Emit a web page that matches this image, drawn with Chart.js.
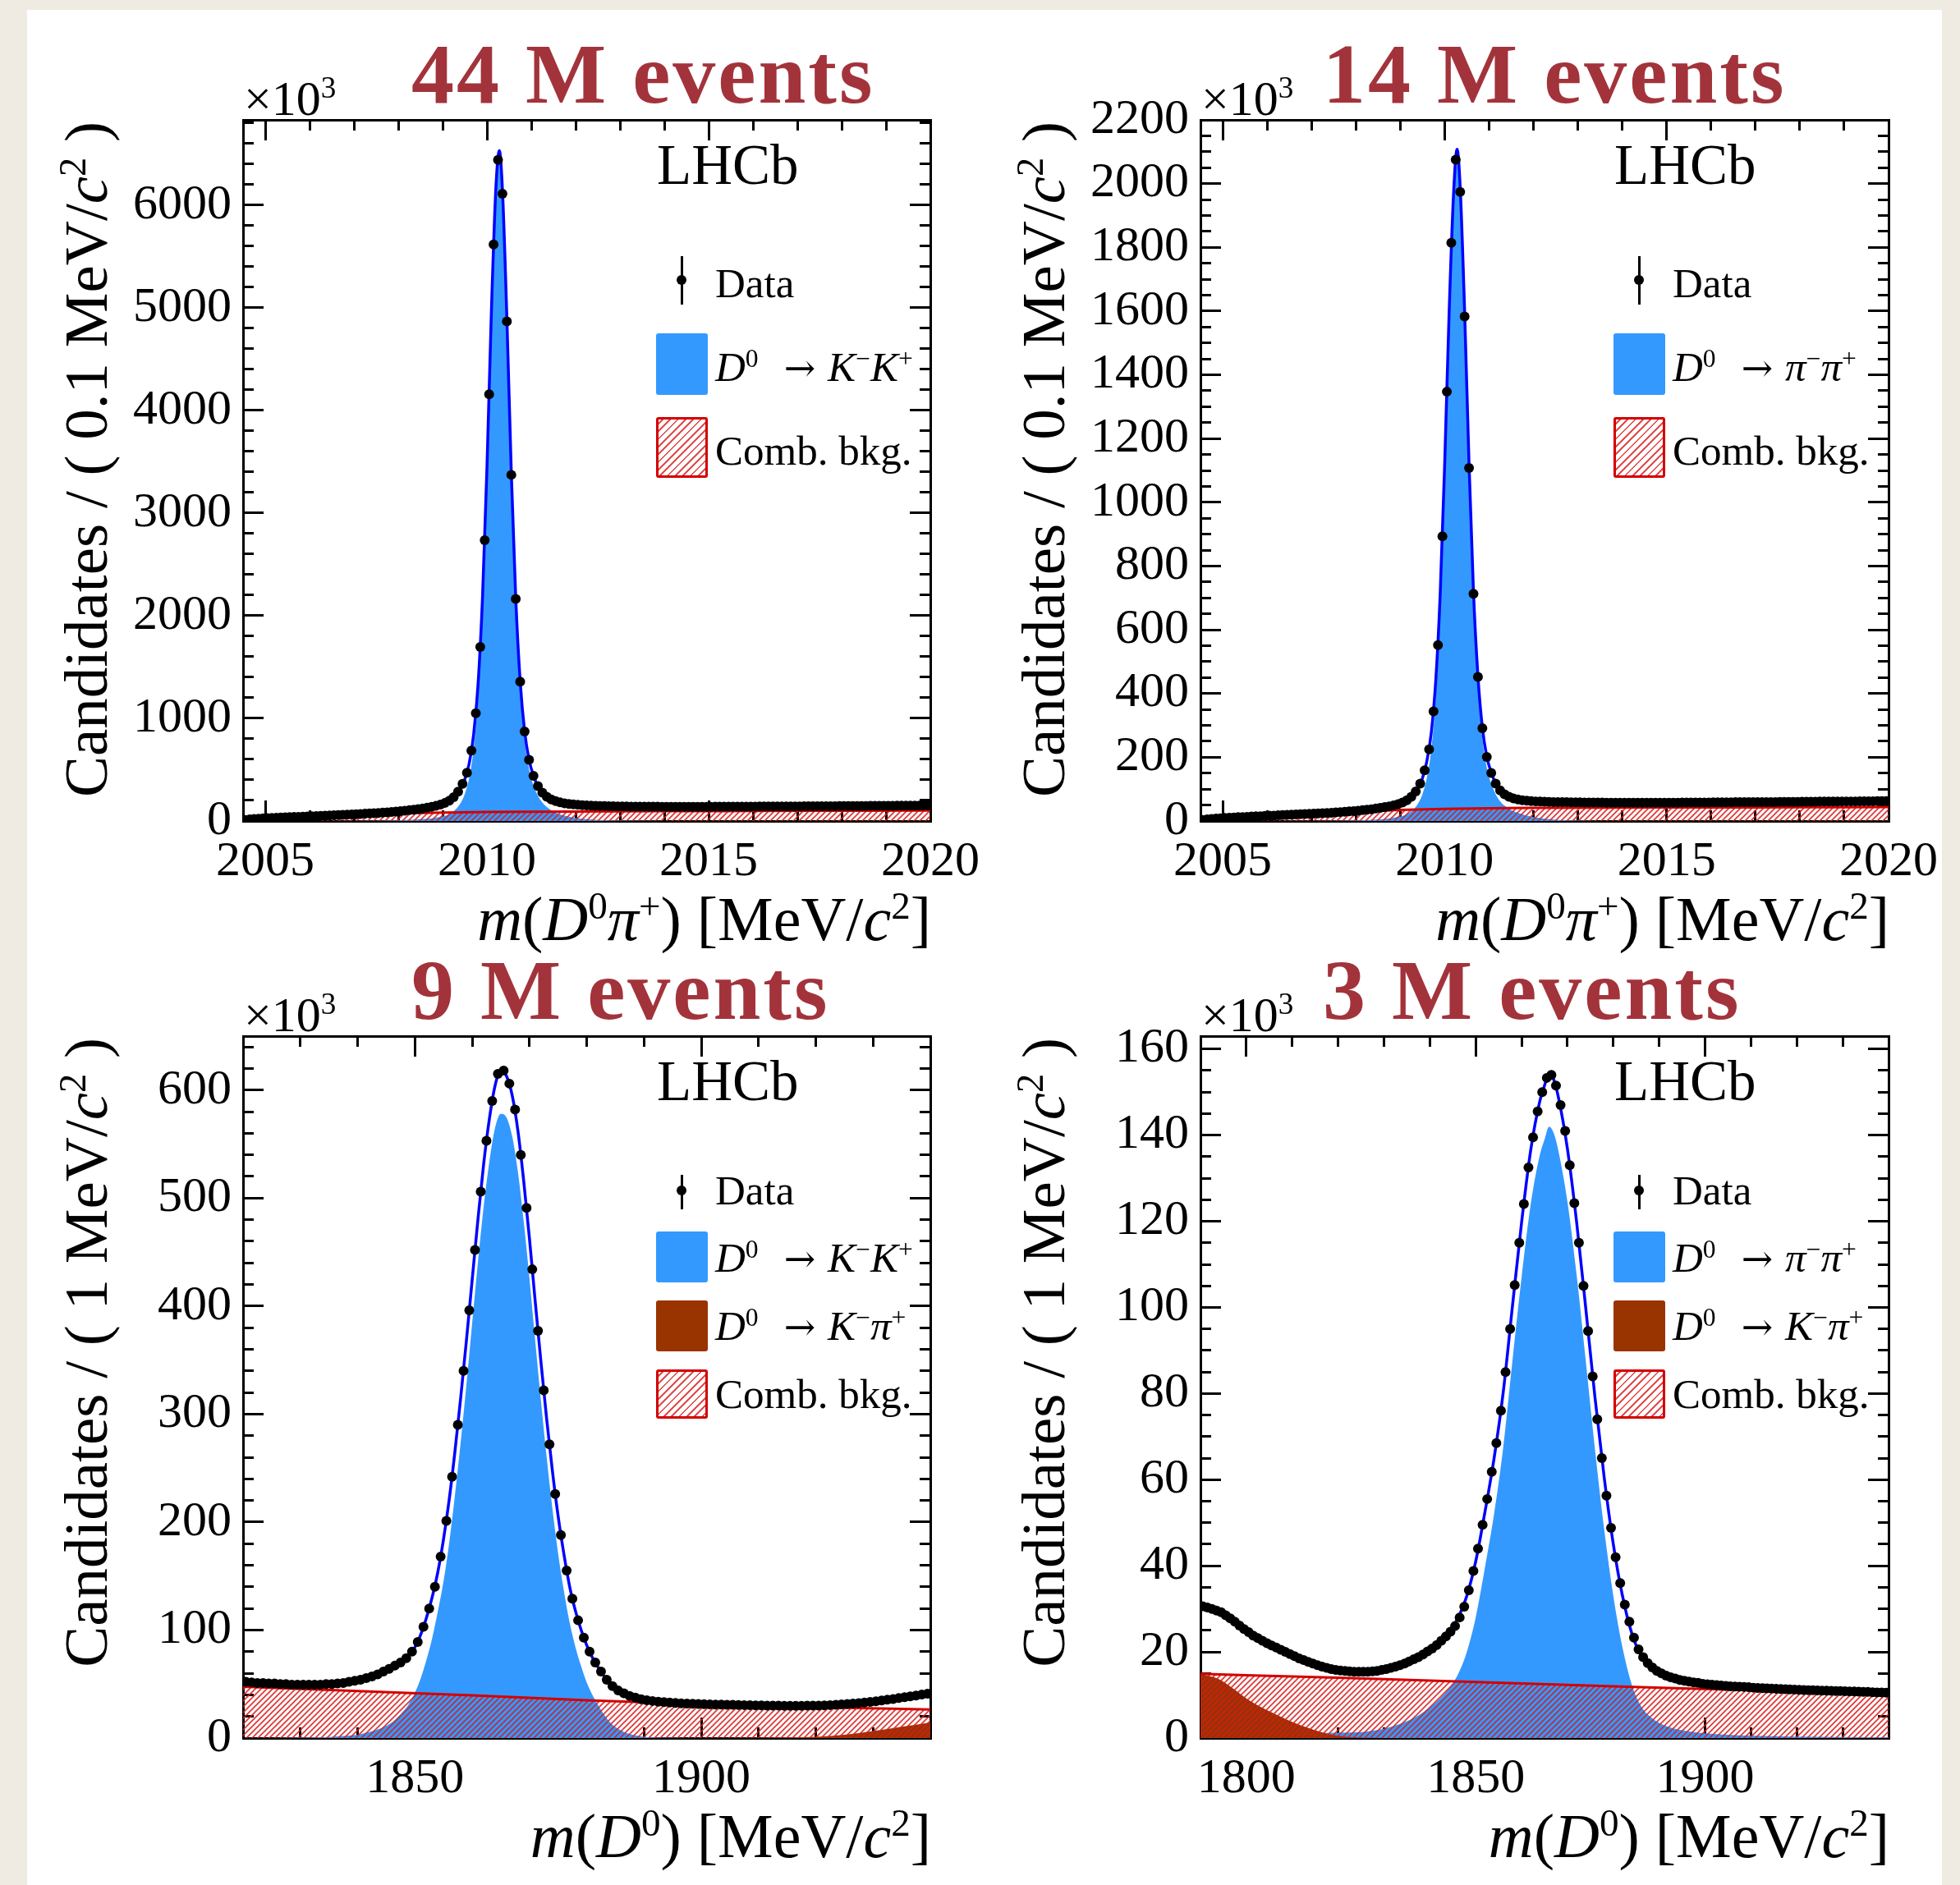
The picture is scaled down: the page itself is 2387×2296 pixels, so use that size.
<!DOCTYPE html>
<html>
<head>
<meta charset="utf-8">
<script src="https://cdn.jsdelivr.net/npm/chart.js@4.4.1/dist/chart.umd.min.js"></script>
<style>
  html, body { margin: 0; padding: 0; }
  body { width: 2387px; height: 2296px; background: #efebe3; position: relative; overflow: hidden;
         font-family: "Liberation Serif", "Times New Roman", serif; }
  #sheet { position: absolute; left: 33px; top: 12px; width: 2332px; height: 2300px; background: #ffffff; }
  canvas { position: absolute; }
  .txt { position: absolute; line-height: 1; white-space: nowrap; color: #000; }
  .head { font-weight: bold; color: #a3333b; letter-spacing: 3px; }
  .ytitle { position: absolute; line-height: 1; white-space: nowrap; text-align: right; width: 1200px;
            transform: rotate(-90deg); transform-origin: 0 0; }
  sup { font-size: 0.62em; position: relative; top: -0.55em; vertical-align: baseline; line-height: 0; }
  .arr { font-family: "DejaVu Serif", serif; font-size: 0.9em; display: inline-block; margin: 0 15px 0 31px; }
  .box { position: absolute; border-radius: 3px; }
  .hatch { position: absolute; box-sizing: border-box; border: 3px solid #d40000; border-radius: 3px;
           background: repeating-linear-gradient(135deg, #ffffff 0 2.4px, #e05050 2.4px 4.4px, #ffffff 4.4px 6.6px); }
  .vbar { position: absolute; width: 3px; background: #000; }
  .dot { position: absolute; width: 12px; height: 12px; border-radius: 50%; background: #000; }
</style>
</head>
<body>
<div id="sheet"></div>
<script>
// ---------- D*+ -> D0 pi+ mass, 0.1 MeV bins (x10^3 candidates) ----------
const dstarFirstBin = 2004.55;
const dstarBinWidth = 0.1;

const dataKK_dstar = [
  9,15,19,22,25,27,29,31,33,35,
  37,39,40,42,44,46,48,50,52,54,
  56,58,60,62,64,66,68,71,73,75,
  78,81,84,88,92,96,100,105,110,116,
  122,129,137,147,159,175,197,232,285,361,
  469,686,1050,1695,2735,4157,5617,6441,6111,4867,
  3372,2163,1357,871,595,439,339,276,236,210,
  193,181,172,166,161,157,154,151,149,147,
  146,145,144,143,142,141,141,140,140,140,
  139,139,139,139,138,138,138,138,138,138,
  138,138,138,138,138,138,139,139,139,139,
  139,140,140,140,140,140,141,141,141,141,
  141,142,142,142,142,142,143,143,143,143,
  144,144,144,144,145,145,145,146,146,146,
  146,147,147,147,148,148,148,149,149,149,
  150,150,150,151,151
];

const dataPiPi_dstar = [
  3,5,6.5,7.5,8.5,9.5,10.5,11,12,12.5,
  13,14,14.5,15,16,16.5,17,18,18.5,19,
  20,20.5,21,22,22.5,23,24,24.5,25,26,
  27,28,29,30,31,32.5,34,35.5,37,39,
  41,43.5,46,49,53,58,65,76,93,117,
  159,225,344,552,893,1347,1814,2075,1974,1583,
  1108,713,452,291,201,151,117,96,84,76,
  71,67.5,65,63.5,62.5,61.5,61,60.5,60,59.5,
  59.5,59,59,58.5,58.5,58.5,58,58,58,58,
  58,57.5,57.5,57.5,57.5,57.5,57.5,57.5,57.5,57.5,
  57.5,57.5,57.5,57.5,57.5,57.5,57.5,57.5,58,58,
  58,58,58,58,58,58.5,58.5,58.5,58.5,58.5,
  59,59,59,59,59,59.5,59.5,59.5,59.5,59.5,
  60,60,60,60,60,60.5,60.5,60.5,60.5,61,
  61,61,61,61,61.5,61.5,61.5,61.5,62,62,
  62,62,62.5,62.5,62.5
];

// fit model sampled along m(D0 pi+)
const fitMassDstar = [2004.45,2004.6,2005,2005.5,2006,2006.5,2007,2007.5,2008,2008.3,2008.6,2008.8,
  2009,2009.1,2009.2,2009.3,2009.4,2009.5,2009.6,2009.7,2009.8,2009.9,2010,2010.1,2010.2,2010.28,
  2010.35,2010.45,2010.55,2010.65,2010.75,2010.85,2010.95,2011.05,2011.15,2011.25,2011.35,2011.5,
  2011.7,2012,2012.5,2013,2014,2015,2016,2017,2018,2019,2020];

const totalKK_dstar = [0,12,26,36,45,55,65,76,94,107,125,142,
  166,185,212,255,318,405,560,840,1330,2170,3430,4950,6150,6530,
  6150,4900,3390,2170,1360,875,598,440,340,277,237,200,
  176,158,148,141,139,138,140,142,145,148,151];
const signalKK_dstar = [0,0,0,0,0,0,0.5,2,6,11,19,28,
  44,56,78,115,170,262,420,700,1190,2030,3300,4830,6040,6440,
  6060,4810,3300,2080,1270,785,505,345,245,180,135,92,
  58,30,10,3,0.5,0,0,0,0,0,0];

const totalPiPi_dstar = [0,4,9,13,16.5,19.5,23,26.5,31.5,35,40,45,
  54,60.5,69,83,104,134,188,278,440,712,1115,1590,1965,2108,
  1990,1600,1120,718,455,293,202,152,118,96.5,84,74,
  66,61,59,58.3,57.6,57.5,58,59,60,61,62.3];
const signalPiPi_dstar = [0,0,0,0,0,0,0.2,0.7,2,3.5,6,9,
  14,18,25,36,55,84,136,224,384,655,1060,1540,1922,2070,
  1950,1560,1080,680,418,258,167,117,84,62,48,34,
  23,12,4,1.5,0.2,0,0,0,0,0,0];

const bkgMassDstar = [2004.43,2004.6,2005,2005.5,2006,2006.5,2007,2007.5,2008,2008.5,2009,2010,2011,2012,2014,2016,2018,2020];
const bkgKK_dstar   = [0,12,24,34,42,50,58,66,73,78,82,87,90,92,95,97,99,101];
const bkgPiPi_dstar = [0,5,10,14,17.5,20.5,23.5,26.5,29.5,32,34.5,38,40,41,42,42.5,43,43.5];

// ---------- D0 mass, 1 MeV bins (x10^3 candidates) ----------
const d0FirstBinKK = 1820.5;
const d0FirstBinPiPi = 1790.5;
const d0BinWidth = 1;

const dataKK_d0 = [
  52,51.5,51,51,50.5,50.5,50,50,49.5,49.5,
  49.5,49.5,49.5,49.5,50,50,50.5,51,52,53,
  54,55.5,57,59,61.5,64,67,70,74,80,
  89,103,120,140,168,201,242,290,340,396,
  452,506,553,590,615,618,606,582,540,491,
  434,377,322,272,226,188,155,129,109,93,
  80,70,61.5,54,48,44,41.5,39,37.5,36,
  35,34.3,33.7,33.2,32.8,32.5,32.2,32,31.8,31.6,
  31.4,31.2,31,30.9,30.8,30.7,30.6,30.5,30.4,30.3,
  30.2,30.1,30,30,29.9,29.9,29.9,29.9,30,30,
  30.1,30.3,30.5,30.8,31.1,31.5,31.9,32.4,32.9,33.5,
  34.1,34.8,35.5,36.2,37,37.8,38.6,39.4,40.2,41
];

const dataPiPi_d0 = [
  30.6,30.3,30.0,29.6,29.2,28.5,27.8,27.0,26.1,25.3,
  24.6,23.8,23.2,22.6,22.0,21.5,21.0,20.5,20.0,19.5,
  19.0,18.5,18.1,17.7,17.3,16.9,16.6,16.3,16.0,15.8,
  15.7,15.6,15.5,15.4,15.4,15.4,15.4,15.5,15.6,15.8,
  16.0,16.3,16.6,16.9,17.3,17.8,18.3,18.8,19.4,20.1,
  20.8,21.6,22.6,23.6,24.7,26.0,28.0,30.5,34.3,38.8,
  44.0,49.5,55.5,61.8,68.5,76.0,85.0,95.0,105.2,115.0,
  124.0,132.5,139.5,145.5,150.0,153.3,154.0,151.5,147.0,141.0,
  133.0,124.2,115.0,105.0,94.5,84.0,74.0,65.0,56.3,48.8,
  42.0,36.0,31.0,27.0,23.3,20.6,18.8,17.4,16.4,15.6,
  15.0,14.5,14.1,13.8,13.5,13.3,13.1,12.9,12.8,12.6,
  12.5,12.4,12.3,12.2,12.1,12.0,11.95,11.9,11.85,11.8,
  11.7,11.65,11.6,11.55,11.5,11.45,11.4,11.35,11.3,11.25,
  11.2,11.15,11.1,11.1,11.05,11.0,11.0,10.95,10.9,10.9,
  10.85,10.8,10.8,10.75,10.7,10.7,10.65,10.6,10.6,10.55
];

const fitMassKK_d0 = [1820,1825,1830,1835,1838,1840,1842,1844,1846,1848,1849,1850,1851,1852,1853,
  1854,1855,1856,1857,1858,1859,1860,1861,1862,1863,1864,1865,1866,1867,1868,1869,1870,1871,1872,
  1873,1874,1875,1876,1877,1878,1879,1880,1881,1882,1884,1886,1888,1890,1895,1900,1905,1910,1915,
  1920,1925,1930,1935,1940];
const totalKK_d0 = [52.2,50.5,49.5,50,51.5,53.5,56.2,60.2,65.5,72,76.5,84,95.5,111,130,
  153.5,184,221,265.5,315,368,424,479.5,531,573,604,618,613,595,562,516,463,405,349,
  296,248,206,171,141,118.5,100.5,86,74.5,65.5,50.8,42.7,38.2,35.5,32.6,31.5,30.7,30.2,29.9,
  30.0,31.3,33.8,37.4,41.3];
const signalKK_d0 = [0,0,0.3,1,2,3,5.5,9,14.5,25,32,42,55,72,92,
  117,145,181,225,274,327,384,440,491.5,533.5,565,578,574.5,557,524,478.5,426,368.5,313,
  260.5,213,171.5,137,107.5,85,67,51.5,40,30.5,15,7,3,1.2,0.2,0,0,0,0,
  0,0,0,0,0];
const bkgMassKK_d0 = [1820,1840,1860,1880,1900,1920,1940];
const bkgKK_d0 = [47.5,43.5,39.5,35,31.3,28.6,26.5];
const misidMassKK_d0 = [1900,1905,1910,1915,1920,1925,1930,1935,1940];
const misidKK_d0 = [0,0.05,0.2,0.5,1.2,3,6.5,10.5,14.5];

const fitMassPiPi_d0 = [1790,1794,1798,1802,1806,1810,1814,1818,1822,1826,1830,1834,1838,1841,1844,
  1846,1848,1850,1852,1854,1856,1858,1860,1862,1864,1865,1866,1867,1868,1870,1872,1874,1876,1878,
  1880,1882,1884,1886,1888,1891,1895,1900,1910,1920,1930,1940];
const totalPiPi_d0 = [30.7,29.5,26.2,23.5,21.2,19.3,17.4,16.1,15.6,15.4,15.8,17.0,19.0,21.3,24.5,
  27.6,32.8,41.0,52.4,64.9,80.3,100.2,119.7,136.6,148.0,151.5,154.5,152.9,148.9,136.8,119.8,99.7,79.1,60.6,
  45.0,33.0,24.4,19.3,16.8,14.7,13.3,12.5,11.65,11.05,10.65,10.3];
const signalPiPi_d0 = [1.0,1.0,1.0,1.05,1.1,1.15,1.2,1.2,1.3,1.5,2.2,3.5,5.6,8.0,11.3,
  14.5,19.8,28,39.5,52,67.5,87.5,107,124,135.5,139,142,140.5,136.5,124.5,107.5,87.5,67,48.5,
  33,21,12.5,7.5,5,3,1.8,1.1,0.55,0.35,0.25,0.2];
const bkgMassPiPi_d0 = [1790,1820,1850,1880,1910,1940];
const bkgPiPi_d0 = [14.9,14.0,13.0,12.0,11.1,10.1];
const misidMassPiPi_d0 = [1790,1792,1794,1797,1800,1803,1806,1809,1812,1815,1818,1821,1825,1830];
const misidPiPi_d0 = [14.8,14.4,13.7,11.6,9.2,7.3,5.7,4.2,2.9,1.8,0.9,0.4,0.1,0];

// ---------- texts ----------
const ARROW = '<span class="arr">→</span>';
const panelHeads = ['44 M events', '14 M events', '9 M events', '3 M events'];
const signalLabels = [
  '<i>D</i><sup>0</sup>' + ARROW + '<i>K</i><sup>−</sup><i>K</i><sup>+</sup>',
  '<i>D</i><sup>0</sup>' + ARROW + '<i>π</i><sup>−</sup><i>π</i><sup>+</sup>',
  '<i>D</i><sup>0</sup>' + ARROW + '<i>K</i><sup>−</sup><i>K</i><sup>+</sup>',
  '<i>D</i><sup>0</sup>' + ARROW + '<i>π</i><sup>−</sup><i>π</i><sup>+</sup>'
];
const misidLabel = '<i>D</i><sup>0</sup>' + ARROW + '<i>K</i><sup>−</sup><i>π</i><sup>+</sup>';
const xTitleDstar = '<i>m</i>(<i>D</i><sup>0</sup><i>π</i><sup>+</sup>) [MeV/<i>c</i><sup>2</sup>]';
const xTitleD0 = '<i>m</i>(<i>D</i><sup>0</sup>) [MeV/<i>c</i><sup>2</sup>]';
const yTitleDstar = 'Candidates / ( 0.1 MeV/<i>c</i><sup>2</sup> )';
const yTitleD0 = 'Candidates / ( 1 MeV/<i>c</i><sup>2</sup> )';

// ---------- drawing ----------
const ASC = 0.8375; // baseline offset for line-height:1 with Liberation Serif
const SERIF = '"Liberation Serif", "Times New Roman", serif';

function addText(html, cls, x, baseline, size, align) {
  const d = document.createElement('div');
  d.className = 'txt ' + (cls || '');
  d.innerHTML = html;
  d.style.fontSize = size + 'px';
  d.style.top = (baseline - ASC * size) + 'px';
  if (align === 'right') {
    d.style.left = (x - 1500) + 'px'; d.style.width = '1500px'; d.style.textAlign = 'right';
  } else {
    d.style.left = x + 'px';
  }
  document.body.appendChild(d);
  return d;
}

function addYTitle(html, baselineX, endY, size) {
  const d = document.createElement('div');
  d.className = 'ytitle';
  d.innerHTML = html;
  d.style.fontSize = size + 'px';
  d.style.left = (baselineX - ASC * size) + 'px';
  d.style.top = (endY + 1200) + 'px';
  document.body.appendChild(d);
}

function addBlock(cls, x, y, w, h, color) {
  const d = document.createElement('div');
  d.className = cls;
  d.style.left = x + 'px'; d.style.top = y + 'px';
  d.style.width = w + 'px'; d.style.height = h + 'px';
  if (color) d.style.background = color;
  document.body.appendChild(d);
}

function hatchPattern(ctx) {
  const s = 7;
  const c = document.createElement('canvas');
  c.width = s; c.height = s;
  const g = c.getContext('2d');
  g.strokeStyle = 'rgba(214,28,28,0.85)';
  g.lineWidth = 1.9;
  g.beginPath();
  g.moveTo(-1, s + 1); g.lineTo(s + 1, -1);
  g.moveTo(-1, 1); g.lineTo(1, -1);
  g.moveTo(s - 1, s + 1); g.lineTo(s + 1, s - 1);
  g.stroke();
  return ctx.createPattern(c, 'repeat');
}

const pairs = (xs, ys) => xs.map((x, i) => ({ x: x, y: ys[i] }));
const binned = (first, width, ys) => ys.map((y, i) => ({ x: +(first + i * width).toFixed(3), y: y }));

const MAJOR_TICK = 25, MINOR_TICK = 13, LINE = 3;
const M_L = 200, M_R = 90, M_T = 40, M_B = 100;

function sized(w, h) {
  return function (s) {
    if (w !== null) s.width = w;
    if (h !== null) s.height = h;
    s.paddingLeft = s.paddingRight = s.paddingTop = s.paddingBottom = 0;
  };
}

// regular tick grid: every multiple of step inside [min, max]
function stepTicks(min, max, step) {
  return function (s) {
    const out = [];
    const first = Math.ceil(min / step - 1e-9);
    const last = Math.floor(max / step + 1e-9);
    for (let k = first; k <= last; k++) out.push({ value: +(k * step).toFixed(6) });
    s.ticks = out;
  };
}

function axis(position, min, max, step, major, withLabels, size) {
  const horizontal = position === 'top' || position === 'bottom';
  return {
    type: 'linear', position: position, min: min, max: max, weight: major ? 1 : 0,
    ticks: {
      display: withLabels, stepSize: step, includeBounds: false, autoSkip: false,
      maxTicksLimit: 1000, maxRotation: 0, minRotation: 0, color: '#000',
      font: { family: SERIF, size: 60 },
      padding: 14 + MAJOR_TICK,
      callback: (v) => String(v)
    },
    grid: { drawOnChartArea: false, drawTicks: true, tickLength: -(major ? MAJOR_TICK : MINOR_TICK),
            color: '#000', lineWidth: LINE },
    border: { display: major, color: '#000', width: LINE },
    afterBuildTicks: stepTicks(min, max, step),
    afterFit: horizontal ? sized(null, size) : sized(size, null)
  };
}

function makePanel(p) {
  const [fl, ft, fr, fb] = p.frame;
  const cv = document.createElement('canvas');
  cv.width = fr - fl + M_L + M_R;
  cv.height = fb - ft + M_T + M_B;
  cv.style.left = (fl - M_L) + 'px';
  cv.style.top = (ft - M_T) + 'px';
  cv.style.width = cv.width + 'px';
  cv.style.height = cv.height + 'px';
  document.body.appendChild(cv);
  const ctx = cv.getContext('2d');

  const sets = [];
  sets.push({ label: 'signal', data: pairs(p.fitMass, p.signal), borderColor: 'rgba(0,0,0,0)', borderWidth: 1,
              pointRadius: 0, fill: 'origin', backgroundColor: '#3399ff', cubicInterpolationMode: 'monotone', order: 5 });
  if (p.misid) {
    sets.push({ label: 'misid', data: pairs(p.misidMass, p.misid), borderColor: 'rgba(0,0,0,0)', borderWidth: 1,
                pointRadius: 0, fill: 'origin', backgroundColor: '#993300', cubicInterpolationMode: 'monotone', order: 4 });
  }
  sets.push({ label: 'comb', data: pairs(p.bkgMass, p.bkg), borderColor: '#d40000', borderWidth: 3,
              pointRadius: 0, fill: 'origin', backgroundColor: hatchPattern(ctx), cubicInterpolationMode: 'monotone', order: 3 });
  sets.push({ label: 'total', data: pairs(p.fitMass, p.total), borderColor: '#0000ff', borderWidth: 3.5,
              pointRadius: 0, fill: false, cubicInterpolationMode: 'monotone', order: 2 });
  sets.push({ label: 'data', data: binned(p.firstBin, p.binWidth, p.data), showLine: false,
              pointRadius: 6, pointBackgroundColor: '#000', pointBorderWidth: 0, order: 1 });

  new Chart(ctx, {
    type: 'line',
    data: { datasets: sets },
    options: {
      responsive: false, animation: false, devicePixelRatio: 1, events: [],
      layout: { padding: 0, autoPadding: false },
      plugins: { legend: { display: false }, tooltip: { enabled: false } },
      scales: {
        x:   axis('bottom', p.xMin, p.xMax, p.xMajor, true, true, M_B),
        xm:  axis('bottom', p.xMin, p.xMax, p.xMinor, false, false, 0),
        xt:  axis('top', p.xMin, p.xMax, p.xMajor, true, false, M_T),
        xtm: axis('top', p.xMin, p.xMax, p.xMinor, false, false, 0),
        y:   axis('left', p.yMin, p.yMax, p.yMajor, true, true, M_L),
        ym:  axis('left', p.yMin, p.yMax, p.yMinor, false, false, 0),
        yr:  axis('right', p.yMin, p.yMax, p.yMajor, true, false, M_R),
        yrm: axis('right', p.yMin, p.yMax, p.yMinor, false, false, 0)
      }
    }
  });

  // headline, multiplier, axis titles
  addText(p.head, 'head', p.headX, p.headBase, 104);
  addText('×10<sup>3</sup>', '', fl + 1, ft - 6, 60);
  addText(p.xTitle, '', fr + 1, fb + 145, 76, 'right');
  addYTitle(p.yTitle, fl - 166, ft + 2, 75);

  // legend
  addText('LHCb', '', fl + 504, ft + 79, 69);
  const lg = p.legend;
  addBlock('vbar', fl + 532.5, ft + lg.barTop, 3, lg.barH);
  addBlock('dot', fl + 528, ft + lg.dotY - 6, 12, 12);
  addText('Data', '', fl + 575, ft + lg.dataBase, 51);
  lg.rows.forEach((r) => {
    if (r.kind === 'hatch') addBlock('hatch', fl + 503, ft + r.top, 63, r.h);
    else addBlock('box', fl + 503, ft + r.top, 63, r.h, r.color);
    addText(r.text, '', fl + 575, ft + r.base, 51);
  });
}

const legendTwo = { barTop: 166, barH: 59, dotY: 195, dataBase: 217 };
const legendThree = { barTop: 169, barH: 42, dotY: 188, dataBase: 206 };

const panels = [
  { frame: [296, 146, 1133, 1000], xMin: 2004.5, xMax: 2020, xMajor: 5, xMinor: 1,
    yMin: 0, yMax: 6830, yMajor: 1000, yMinor: 200,
    firstBin: dstarFirstBin, binWidth: dstarBinWidth, data: dataKK_dstar,
    fitMass: fitMassDstar, total: totalKK_dstar, signal: signalKK_dstar,
    bkgMass: bkgMassDstar, bkg: bkgKK_dstar,
    head: panelHeads[0], headX: 501, headBase: 125, xTitle: xTitleDstar, yTitle: yTitleDstar,
    legend: Object.assign({ rows: [
      { kind: 'box', color: '#3399ff', top: 260, h: 75, base: 319, text: signalLabels[0] },
      { kind: 'hatch', top: 362, h: 74, base: 421, text: 'Comb. bkg.' } ] }, legendTwo) },
  { frame: [1462, 146, 2300, 1000], xMin: 2004.5, xMax: 2020, xMajor: 5, xMinor: 1,
    yMin: 0, yMax: 2200, yMajor: 200, yMinor: 50,
    firstBin: dstarFirstBin, binWidth: dstarBinWidth, data: dataPiPi_dstar,
    fitMass: fitMassDstar, total: totalPiPi_dstar, signal: signalPiPi_dstar,
    bkgMass: bkgMassDstar, bkg: bkgPiPi_dstar,
    head: panelHeads[1], headX: 1611, headBase: 125, xTitle: xTitleDstar, yTitle: yTitleDstar,
    legend: Object.assign({ rows: [
      { kind: 'box', color: '#3399ff', top: 260, h: 75, base: 319, text: signalLabels[1] },
      { kind: 'hatch', top: 362, h: 74, base: 421, text: 'Comb. bkg.' } ] }, legendTwo) },
  { frame: [296, 1262, 1133, 2117], xMin: 1820, xMax: 1940, xMajor: 50, xMinor: 10,
    yMin: 0, yMax: 650, yMajor: 100, yMinor: 20,
    firstBin: d0FirstBinKK, binWidth: d0BinWidth, data: dataKK_d0,
    fitMass: fitMassKK_d0, total: totalKK_d0, signal: signalKK_d0,
    bkgMass: bkgMassKK_d0, bkg: bkgKK_d0, misidMass: misidMassKK_d0, misid: misidKK_d0,
    head: panelHeads[2], headX: 501, headBase: 1241, xTitle: xTitleD0, yTitle: yTitleD0,
    legend: Object.assign({ rows: [
      { kind: 'box', color: '#3399ff', top: 238, h: 62, base: 288, text: signalLabels[2] },
      { kind: 'box', color: '#993300', top: 322, h: 62, base: 371, text: misidLabel },
      { kind: 'hatch', top: 406, h: 60, base: 454, text: 'Comb. bkg.' } ] }, legendThree) },
  { frame: [1462, 1262, 2300, 2117], xMin: 1790, xMax: 1940, xMajor: 50, xMinor: 10,
    yMin: 0, yMax: 163, yMajor: 20, yMinor: 5,
    firstBin: d0FirstBinPiPi, binWidth: d0BinWidth, data: dataPiPi_d0,
    fitMass: fitMassPiPi_d0, total: totalPiPi_d0, signal: signalPiPi_d0,
    bkgMass: bkgMassPiPi_d0, bkg: bkgPiPi_d0, misidMass: misidMassPiPi_d0, misid: misidPiPi_d0,
    head: panelHeads[3], headX: 1611, headBase: 1241, xTitle: xTitleD0, yTitle: yTitleD0,
    legend: Object.assign({ rows: [
      { kind: 'box', color: '#3399ff', top: 238, h: 62, base: 288, text: signalLabels[3] },
      { kind: 'box', color: '#993300', top: 322, h: 62, base: 371, text: misidLabel },
      { kind: 'hatch', top: 406, h: 60, base: 454, text: 'Comb. bkg.' } ] }, legendThree) }
];

panels.forEach(makePanel);
</script>
</body>
</html>
